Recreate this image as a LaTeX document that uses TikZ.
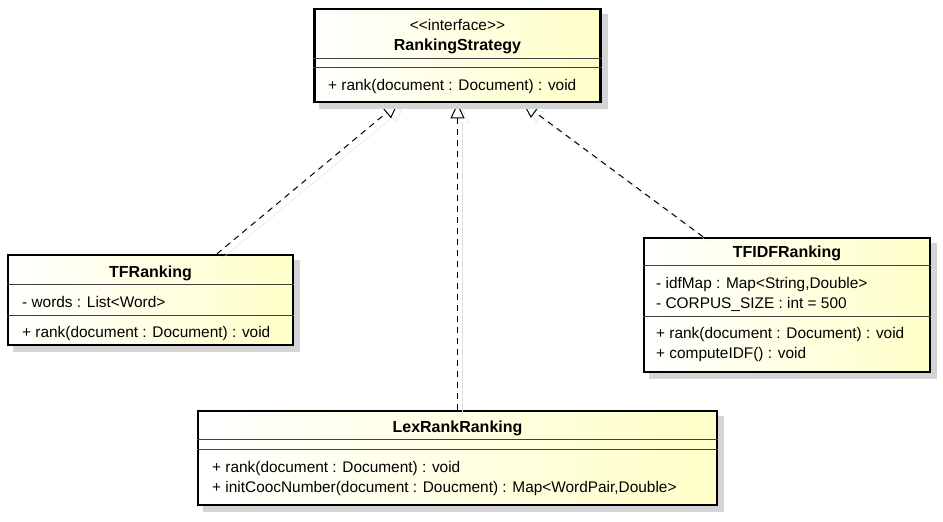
\documentclass[tikz,border=0pt]{standalone}
\usepackage{fontspec}
\setmainfont{Liberation Sans}
\usepackage{xcolor}
\usetikzlibrary{positioning, arrows.meta}
\definecolor{umlcream}{RGB}{255,255,200}
\definecolor{linkshadow}{RGB}{222,222,222}

\begin{document}
\begin{tikzpicture}[
    x=1pt, y=-1pt,
    font=\fontsize{15.4}{18}\selectfont,
    classbox/.style={draw, line width=2.5pt, inner sep=0pt, left color=white, right color=umlcream},
    boxshadow/.style={draw=black!17, line width=6pt, line join=miter},
    member/.style={anchor=west, inner sep=0pt},
    title/.style={inner sep=0pt, font=\fontsize{16}{18}\selectfont\bfseries},
    sep/.style={line width=0.9pt, black!75},
    realize/.style={dash pattern=on 6pt off 5pt, line width=1pt,
        -{Triangle[fill=white, length=15pt, width=14pt]},
        preaction={draw=linkshadow, solid, transform canvas={shift={(5pt,-5pt)}}}}
]
\useasboundingbox (0,0) rectangle (943,522);

% Interface
\node[classbox, minimum width=286pt, minimum height=93pt] (strategy) at (457.5,55.5) {};
\node[inner sep=0pt] (stereo) at (457.5,25) {{<}{<}interface{>}{>}};
\node[title] (strategyname) at (457.5,46) {RankingStrategy};
\node[member] (strategyrank) at (328,87) {+ rank(document : Document) : void};
\draw[sep] ([yshift=-51pt]strategy.north west) -- ([yshift=-51pt]strategy.north east);
\draw[sep] ([yshift=-60pt]strategy.north west) -- ([yshift=-60pt]strategy.north east);

% TFRanking
\node[classbox, minimum width=285pt, minimum height=90pt] (tf) at (150.5,300) {};
\node[title] (tfname) at (150.5,273) {TFRanking};
\node[member] (tfwords) at (22,302) {- words : List<Word>};
\node[member] (tfrank) at (22,334) {+ rank(document : Document) : void};
\draw[sep] ([yshift=-31pt]tf.north west) -- ([yshift=-31pt]tf.north east);
\draw[sep] ([yshift=-62pt]tf.north west) -- ([yshift=-62pt]tf.north east);

% TFIDFRanking
\node[classbox, minimum width=286pt, minimum height=134pt] (tfidf) at (787,305) {};
\node[title] (tfidfname) at (787,253) {TFIDFRanking};
\node[member] (tfidfmap) at (656,285) {- idfMap : Map<String,Double>};
\node[member] (tfidfsize) at (656,304) {- CORPUS\_SIZE : int = 500};
\node[member] (tfidfrank) at (656,335) {+ rank(document : Document) : void};
\node[member] (tfidfcompute) at (656,355) {+ computeIDF() : void};
\draw[sep] ([yshift=-29pt]tfidf.north west) -- ([yshift=-29pt]tfidf.north east);
\draw[sep] ([yshift=-80pt]tfidf.north west) -- ([yshift=-80pt]tfidf.north east);

% LexRankRanking
\node[classbox, minimum width=519pt, minimum height=94pt] (lex) at (457.5,458) {};
\node[title] (lexname) at (457.5,428) {LexRankRanking};
\node[member] (lexrank) at (212,469) {+ rank(document : Document) : void};
\node[member] (lexcooc) at (212,489) {+ initCoocNumber(document : Doucment) : Map<WordPair,Double>};
\draw[sep] ([yshift=-30pt]lex.north west) -- ([yshift=-30pt]lex.north east);
\draw[sep] ([yshift=-40pt]lex.north west) -- ([yshift=-40pt]lex.north east);

% Realizations
\draw[realize] ([xshift=66.5pt]tf.north) -- ([xshift=-59.5pt]strategy.south);
\draw[realize] (lex.north) -- (strategy.south);
\draw[realize] ([xshift=-84pt]tfidf.north) -- ([xshift=65.5pt]strategy.south);

% Shadows (band right of and below each box)
\draw[boxshadow] ([shift={(3,6)}]strategy.north east) -- ([shift={(3,3)}]strategy.south east) -- ([shift={(6,3)}]strategy.south west);
\draw[boxshadow] ([shift={(3,6)}]tf.north east) -- ([shift={(3,3)}]tf.south east) -- ([shift={(6,3)}]tf.south west);
\draw[boxshadow] ([shift={(3,6)}]tfidf.north east) -- ([shift={(3,3)}]tfidf.south east) -- ([shift={(6,3)}]tfidf.south west);
\draw[boxshadow] ([shift={(3,6)}]lex.north east) -- ([shift={(3,3)}]lex.south east) -- ([shift={(6,3)}]lex.south west);

\end{tikzpicture}
\end{document}
